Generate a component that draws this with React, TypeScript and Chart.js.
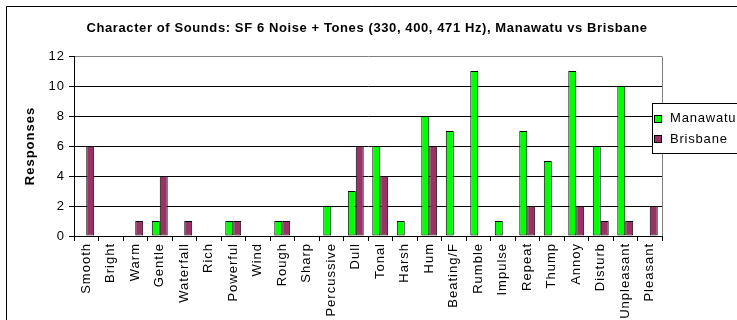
import React, { useEffect, useRef } from 'react';
import { Chart, registerables } from 'chart.js';

Chart.register(...registerables);

const TITLE = 'Character of Sounds: SF 6 Noise + Tones (330, 400, 471 Hz), Manawatu vs Brisbane';
const Y_TITLE = 'Responses';

const categories = [
  'Smooth', 'Bright', 'Warm', 'Gentle', 'Waterfall', 'Rich', 'Powerful', 'Wind',
  'Rough', 'Sharp', 'Percussive', 'Dull', 'Tonal', 'Harsh', 'Hum', 'Beating/F',
  'Rumble', 'Impulse', 'Repeat', 'Thump', 'Annoy', 'Disturb', 'Unpleasant', 'Pleasant',
];

const seriesNames = ['Manawatu', 'Brisbane'];
const seriesColors = ['#00FF00', '#993366'];

const manawatu = [0, 0, 0, 1, 0, 0, 1, 0, 1, 0, 2, 3, 6, 1, 8, 7, 11, 1, 7, 5, 11, 6, 10, 0];
const brisbane = [6, 0, 1, 4, 1, 0, 1, 0, 1, 0, 0, 6, 4, 0, 6, 0, 0, 0, 2, 0, 2, 1, 1, 2];

const yMin = 0;
const yMax = 12;
const yStep = 2;

const FONT = '"Liberation Sans", Arial, sans-serif';

const decorPlugin = {
  id: 'decor',
  beforeDraw(chart: any) {
    const ctx = chart.ctx;
    ctx.save();
    ctx.fillStyle = '#ffffff';
    ctx.fillRect(0, 0, chart.width, chart.height);
    ctx.restore();
    (ctx as any).letterSpacing = '1px';
  },
  afterDraw(chart: any) {
    const ctx = chart.ctx;
    const a = chart.chartArea;
    ctx.save();

    // plot area right border (grey)
    ctx.strokeStyle = '#808080';
    ctx.lineWidth = 1;
    ctx.beginPath();
    ctx.moveTo(Math.round(a.right) + 0.5, Math.round(a.top) + 0.5);
    ctx.lineTo(Math.round(a.right) + 0.5, Math.round(a.bottom));
    ctx.stroke();

    // outer frame
    ctx.strokeStyle = '#000000';
    ctx.beginPath();
    ctx.moveTo(6.5, chart.height);
    ctx.lineTo(6.5, 6.5);
    ctx.lineTo(chart.width, 6.5);
    ctx.stroke();

    // title
    (ctx as any).letterSpacing = '0.6px';
    ctx.fillStyle = '#000';
    ctx.font = `bold 13px ${FONT}`;
    ctx.textAlign = 'center';
    ctx.textBaseline = 'alphabetic';
    ctx.fillText(TITLE, 367, 32);

    // legend
    const lx = a.right - 10;
    const ly = a.top + 47;
    ctx.fillStyle = '#fff';
    ctx.fillRect(lx + 0.5, ly + 0.5, 120, 50);
    ctx.strokeStyle = '#000';
    ctx.strokeRect(lx + 0.5, ly + 0.5, 120, 50);
    (ctx as any).letterSpacing = '0.8px';
    ctx.font = `13px ${FONT}`;
    ctx.textAlign = 'left';
    chart.data.datasets.forEach((ds: any, i: number) => {
      const sy = ly + 12 + i * 20;
      ctx.fillStyle = ds.backgroundColor;
      ctx.fillRect(lx + 2.5, sy + 0.5, 7, 7);
      ctx.strokeStyle = '#000';
      ctx.strokeRect(lx + 2.5, sy + 0.5, 7, 7);
      ctx.fillStyle = '#000';
      ctx.fillText(ds.label, lx + 18, sy + 7 + (i === 0 ? 0 : 1));
    });
    ctx.restore();
  },
};

export default function App() {
  const ref = useRef<HTMLCanvasElement>(null);

  useEffect(() => {
    if (!ref.current) return;
    const chart = new Chart(ref.current, {
      type: 'bar',
      data: {
        labels: categories,
        datasets: [manawatu, brisbane].map((vals, i) => ({
          label: seriesNames[i],
          data: vals.map((v) => (v === 0 ? null : v)),
          backgroundColor: seriesColors[i],
          borderColor: '#000000',
          borderWidth: 1,
          borderSkipped: false,
          categoryPercentage: 0.65,
          barPercentage: 1,
        })),
      },
      options: {
        animation: false,
        responsive: false,
        devicePixelRatio: 1,
        layout: { padding: { top: 56, right: 75, left: 0, bottom: 0 } },
        plugins: {
          legend: { display: false },
          title: { display: false },
          tooltip: { enabled: false },
        },
        scales: {
          x: {
            type: 'category',
            offset: true,
            grid: {
              offset: true,
              drawOnChartArea: false,
              drawTicks: true,
              tickLength: 5,
              tickColor: '#000',
            },
            border: { color: '#000', width: 1 },
            ticks: {
              autoSkip: false,
              maxRotation: 90,
              minRotation: 90,
              padding: 2,
              color: '#000',
              font: { family: FONT, size: 13 },
            },
            afterFit: (s: any) => {
              s.height = 84;
            },
          },
          y: {
            min: yMin,
            max: yMax,
            ticks: {
              stepSize: yStep,
              padding: 4,
              color: '#000',
              font: { family: FONT, size: 13 },
            },
            grid: {
              color: (c: any) => (c.tick && c.tick.value === yMax ? '#808080' : '#000000'),
              tickLength: 5,
              tickColor: '#000',
            },
            border: { color: '#000', width: 1 },
            title: {
              display: true,
              text: Y_TITLE,
              color: '#000',
              font: { family: FONT, size: 13, weight: 'bold' },
              padding: { top: 23, bottom: 0 },
            },
            afterFit: (s: any) => {
              s.width = 74;
            },
          },
        },
      },
      plugins: [decorPlugin],
    });
    return () => chart.destroy();
  }, []);

  return (
    <div style={{ position: 'absolute', left: 0, top: 0, width: 737, height: 320 }}>
      <canvas ref={ref} width={737} height={320} />
    </div>
  );
}
